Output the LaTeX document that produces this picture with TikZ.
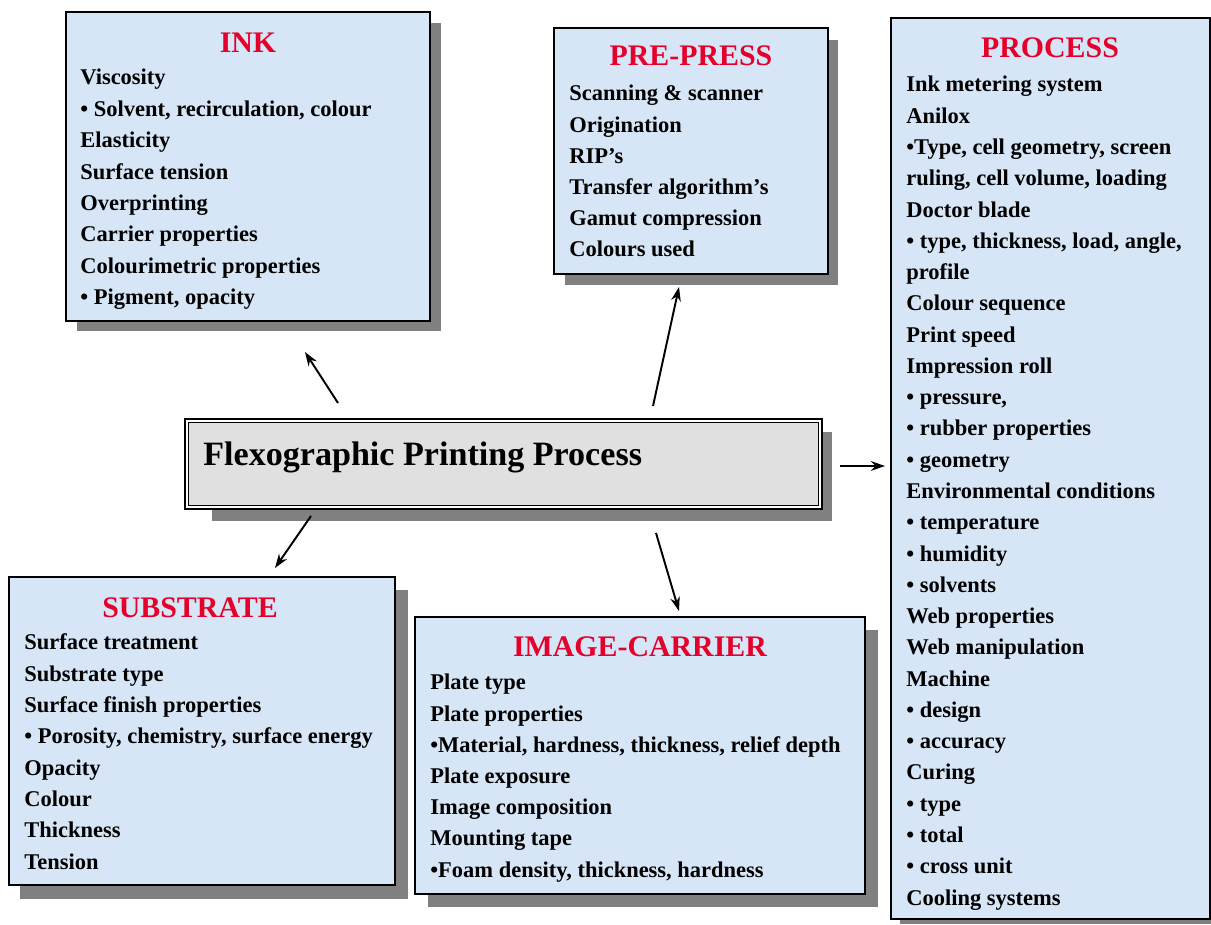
\documentclass[tikz,border=0pt]{standalone}
\usepackage{fontspec}
\setmainfont{Liberation Serif}
\usetikzlibrary{arrows.meta,fit}
\definecolor{paleblue}{RGB}{215,230,246}
\definecolor{titlered}{RGB}{228,0,43}
\definecolor{marble}{RGB}{224,224,224}
\definecolor{shadowgrey}{RGB}{128,128,128}
\tikzset{
	panel/.style={draw=black, line width=1.1pt, fill=paleblue, inner sep=0pt},
	drop/.style={fill=shadowgrey},
	heading/.style={text=titlered, font=\fontsize{17}{18}\selectfont\bfseries, anchor=base, inner sep=0pt},
	entry/.style={font=\fontsize{12.8}{15}\selectfont\bfseries, anchor=base west, inner sep=0pt},
	link/.style={line width=1.1pt, -{Stealth[length=8pt,width=5.5pt]}},
}

\begin{document}
\begin{tikzpicture}[x=0.02cm, y=-0.02cm]
		%%%%% START %%%%%
		\useasboundingbox (0,0) rectangle (1211,925);
		
		% ink
		\fill[drop] (77,23) rectangle (441,331);
		\node[panel, fit={(66,12) (430,321)}] (ink) {};
		\node[heading] (ink-title) at (248,53) {INK};
		\foreach \t [count=\i from 0] in {Viscosity, {• Solvent, recirculation, colour}, Elasticity, Surface tension, Overprinting, Carrier properties, Colourimetric properties, {• Pigment, opacity}}
			\node[entry] (ink-\i) at (80,{85+31.4*\i}) {\t};
		
		% pre-press
		\fill[drop] (565,40) rectangle (838,285);
		\node[panel, fit={(554,28) (828,274)}] (prepress) {};
		\node[heading] (prepress-title) at (691,66) {PRE-PRESS};
		\foreach \t [count=\i from 0] in {Scanning \& scanner, Origination, RIP’s, Transfer algorithm’s, Gamut compression, Colours used}
			\node[entry] (prepress-\i) at (569,{101+31.2*\i}) {\t};
		
		% process
		\fill[drop] (900,30) rectangle (1211,924);
		\node[panel, fit={(891,18) (1210,919)}] (process) {};
		\node[heading] (process-title) at (1050,58) {PROCESS};
		\foreach \t [count=\i from 0] in {Ink metering system, Anilox, {•Type, cell geometry, screen}, {ruling, cell volume, loading}, Doctor blade, {• type, thickness, load, angle,}, profile, Colour sequence, Print speed, Impression roll, {• pressure,}, • rubber properties, • geometry, Environmental conditions, • temperature, • humidity, • solvents, Web properties, Web manipulation, Machine, • design, • accuracy, Curing, • type, • total, • cross unit, Cooling systems}
			\node[entry] (process-\i) at (906,{92+31.27*\i}) {\t};
		
		% substrate
		\fill[drop] (20,590) rectangle (408,899);
		\node[panel, fit={(9,577) (395,885)}] (substrate) {};
		\node[heading] (substrate-title) at (190,618) {SUBSTRATE};
		\foreach \t [count=\i from 0] in {Surface treatment, Substrate type, Surface finish properties, {• Porosity, chemistry, surface energy}, Opacity, Colour, Thickness, Tension}
			\node[entry] (substrate-\i) at (24,{650+31.3*\i}) {\t};
		
		% image-carrier
		\fill[drop] (428,630) rectangle (878,907);
		\node[panel, fit={(415,617) (865,894)}] (carrier) {};
		\node[heading] (carrier-title) at (640,657) {IMAGE-CARRIER};
		\foreach \t [count=\i from 0] in {Plate type, Plate properties, {•Material, hardness, thickness, relief depth}, Plate exposure, Image composition, Mounting tape, {•Foam density, thickness, hardness}}
			\node[entry] (carrier-\i) at (430,{690+31.17*\i}) {\t};
		
		% centre
		\fill[drop] (212,432) rectangle (832,521);
		\node[draw=black, line width=1.6pt, fill=marble, inner sep=0pt, fit={(185,419) (822,509)}] (centre) {};
		\draw[white, line width=1.2pt] ([shift={(3,3)}]centre.north west) rectangle ([shift={(-3,-3)}]centre.south east);
		\draw[line width=0.8pt] ([shift={(5,5)}]centre.north west) rectangle ([shift={(-5,-5)}]centre.south east);
		\node[anchor=base west, inner sep=0pt, font=\fontsize{19.4}{22}\selectfont\bfseries] (centre-title) at (203,466) {Flexographic Printing Process};
		
		% arrows
		\coordinate (ink-from) at (338,403);
		\coordinate (ink-to) at (305,352);
		\coordinate (prepress-from) at (653,406);
		\coordinate (prepress-to) at (679,287);
		\coordinate (process-from) at (840,466);
		\coordinate (process-to) at (885,466);
		\coordinate (substrate-from) at (311,516);
		\coordinate (substrate-to) at (275,568);
		\coordinate (carrier-from) at (656,533);
		\coordinate (carrier-to) at (679,611);
		\foreach \b in {ink, prepress, process, substrate, carrier}
			\draw[link] (\b-from) -- (\b-to);
		
		%%%%% END %%%%%
\end{tikzpicture}
\end{document}
